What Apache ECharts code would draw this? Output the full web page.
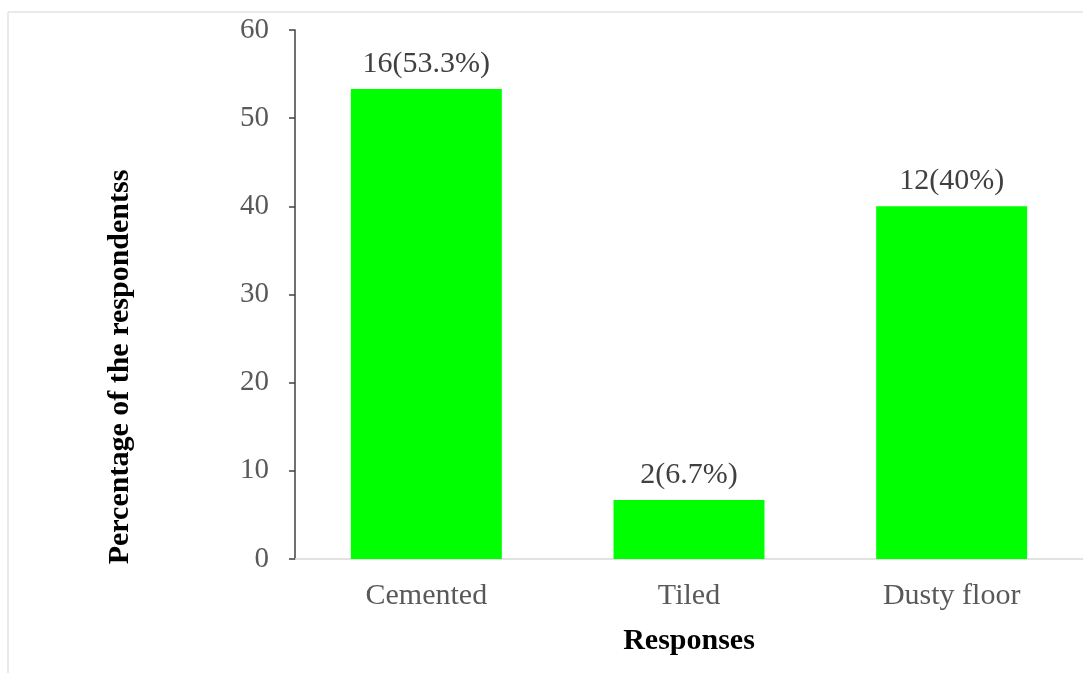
<!DOCTYPE html>
<html>
<head>
<meta charset="utf-8">
<script src="https://cdn.jsdelivr.net/npm/echarts@6/dist/echarts.min.js"></script>
<style>
  html, body { margin: 0; padding: 0; background: #fff; }
  #chart { width: 1083px; height: 673px; }
</style>
</head>
<body>
<div id="chart"></div>
<script>
// Floor type responses
const categories = ['Cemented', 'Tiled', 'Dusty floor'];
const percentages = [53.3, 6.7, 40];
const counts = [16, 2, 12];
const percentLabels = ['53.3%', '6.7%', '40%'];
const yTicks = [0, 10, 20, 30, 40, 50, 60];

const chart = echarts.init(document.getElementById('chart'));
const serif = '"Liberation Serif", "Times New Roman", serif';

chart.setOption({
  animation: false,
  grid: { left: 295, top: 30, width: 791, height: 529 },
  graphic: [
    { type: 'line', shape: { x1: 8, y1: 12, x2: 1083, y2: 12 }, style: { stroke: '#e3e3e3', lineWidth: 1.5 } },
    { type: 'line', shape: { x1: 8, y1: 12, x2: 8, y2: 673 }, style: { stroke: '#e3e3e3', lineWidth: 1.5 } },
    {
      type: 'text', x: 120, y: 367, rotation: Math.PI / 2,
      style: {
        text: 'Percentage of the respondentss',
        font: 'bold 30px ' + serif, fill: '#000',
        textAlign: 'center', textVerticalAlign: 'middle'
      }
    }
  ],
  xAxis: {
    type: 'category',
    data: categories,
    name: 'Responses',
    nameLocation: 'middle',
    nameGap: 67,
    nameTextStyle: { fontFamily: serif, fontSize: 30, fontWeight: 'bold', color: '#000' },
    axisLine: { lineStyle: { color: '#d9d9d9', width: 1.5 } },
    axisTick: { show: false },
    axisLabel: { fontFamily: serif, fontSize: 30, color: '#595959', margin: 22 }
  },
  yAxis: {
    type: 'value',
    min: yTicks[0],
    max: yTicks[yTicks.length - 1],
    interval: 10,
    axisLine: { show: true, lineStyle: { color: '#404040', width: 1.5 } },
    axisTick: { show: true, length: 6, lineStyle: { color: '#404040', width: 1.5 } },
    splitLine: { show: false },
    axisLabel: { fontFamily: serif, fontSize: 29, color: '#595959', margin: 26 }
  },
  series: [{
    type: 'bar',
    data: percentages,
    barWidth: 151,
    itemStyle: { color: '#00ff00' },
    label: {
      show: true,
      position: 'top',
      distance: 10,
      fontFamily: serif,
      fontSize: 30,
      color: '#404040',
      formatter: p => counts[p.dataIndex] + '(' + percentLabels[p.dataIndex] + ')'
    }
  }]
});
</script>
</body>
</html>
